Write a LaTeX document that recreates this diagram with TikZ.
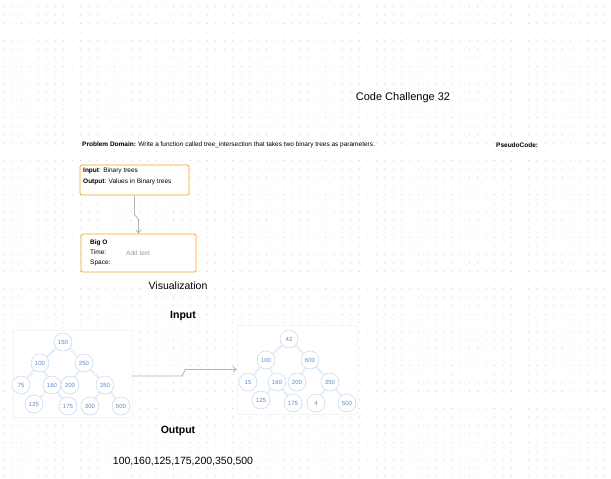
\documentclass[tikz,border=0pt]{standalone}
\usepackage{fontspec}
\setmainfont{Liberation Sans}
\usetikzlibrary{arrows.meta}
\definecolor{boxorange}{HTML}{F5A524}
\definecolor{treeline}{HTML}{C4D7EE}
\definecolor{treetext}{HTML}{5B8CC8}
\definecolor{dotgray}{HTML}{CDCDCD}
\definecolor{conngray}{HTML}{B3B3B3}
\begin{document}
\begin{tikzpicture}[x=1pt, y=-1pt,
  tiny/.style={font=\fontsize{6.5}{7.5}\selectfont, inner sep=0pt, align=left},
  big/.style={font=\fontsize{10.5}{12}\selectfont, inner sep=0pt},
  card/.style={draw=boxorange, line width=0.9pt, rounded corners=1.5pt, fill=white,
               minimum width=#1, inner sep=0pt},
  frame/.style={draw=black!4, fill=white, inner sep=0pt},
  tnode/.style={circle, draw=treeline, fill=white, line width=0.5pt, minimum size=18pt,
                inner sep=0pt, text=treetext, font=\fontsize{6}{7}\selectfont},
  tedge/.style={draw=treeline, line width=0.45pt, double=white, double distance=0.8pt},
  conn/.style={draw=conngray, line width=0.8pt, -{Straight Barb[length=3pt,width=5pt]}}
]
  \useasboundingbox[fill=white] (0,0) rectangle (611,479);

  % --- dotted canvas ---
  \foreach \i in {0,...,71}
    \foreach \j in {0,...,55}
      \fill[dotgray] (4.5+8.45*\i, 6.5+8.55*\j) circle (0.55);

  % --- title and problem line ---
  \node[font=\fontsize{11}{13}\selectfont, inner sep=0pt] (title) at (403,98) {Code Challenge 32};
  \node[tiny, anchor=west] (domain) at (82,145)
       {\textbf{Problem Domain:} Write a function called tree\_intersection that takes two binary trees as parameters.};
  \node[tiny, anchor=west] (pseudo) at (496,145) {\textbf{PseudoCode:}};

  % --- input / output card ---
  \node[card=109pt, minimum height=30pt] (inbox) at (134.5,180) {};
  \node[tiny, anchor=north west] (intxt) at (83,167.5)
       {\textbf{Input}: Binary trees\\[3.5pt]\textbf{Output}: Values in Binary trees};

  % --- big O card ---
  \node[card=115pt, minimum height=38pt] (bigo) at (138.5,253) {};
  \node[tiny, anchor=north west] (bigotxt) at (90,240)
       {\textbf{Big O}\\[2.5pt]Time:\\[2.5pt]Space:};
  \node[tiny, text=black!40, anchor=west] (addtxt) at (126,253) {Add text};

  \draw[conn] (inbox.south) -- ++(0,19) -- ++(4,5) -- (bigo.north);

  % --- headings ---
  \node[big] (visual) at (178,286) {Visualization};
  \node[big, font=\fontsize{10.5}{12}\selectfont\bfseries] (inhead) at (183,316) {Input};
  \node[big, font=\fontsize{10.5}{12}\selectfont\bfseries] (outhead) at (178,431) {Output};
  \node[big] (result) at (183,462) {100,160,125,175,200,350,500};

  % --- first tree ---
  \node[frame, minimum width=119pt, minimum height=87pt] (lframe) at (72.5,373.5) {};
  \node[tnode] (a150) at (63,342) {150};
  \node[tnode] (a100) at (40,363) {100};
  \node[tnode] (a250) at (84,363) {250};
  \node[tnode] (a75)  at (21,385) {75};
  \node[tnode] (a160) at (52,385) {160};
  \node[tnode] (a200) at (70,385) {200};
  \node[tnode] (a350) at (105,385) {350};
  \node[tnode] (a125) at (34,404) {125};
  \node[tnode] (a175) at (68,406) {175};
  \node[tnode] (a300) at (90,406) {300};
  \node[tnode] (a500) at (121,406) {500};
  \draw[tedge] (a150) -- (a100);
  \draw[tedge] (a150) -- (a250);
  \draw[tedge] (a100) -- (a75);
  \draw[tedge] (a100) -- (a160);
  \draw[tedge] (a160) -- (a125);
  \draw[tedge] (a160) -- (a175);
  \draw[tedge] (a250) -- (a200);
  \draw[tedge] (a250) -- (a350);
  \draw[tedge] (a350) -- (a300);
  \draw[tedge] (a350) -- (a500);

  % --- second tree ---
  \node[frame, minimum width=120pt, minimum height=89pt] (rframe) at (297,369.5) {};
  \node[tnode] (b42)  at (289,339) {42};
  \node[tnode] (b100) at (266,360) {100};
  \node[tnode] (b600) at (310,360) {600};
  \node[tnode] (b15)  at (248,382) {15};
  \node[tnode] (b160) at (277,382) {160};
  \node[tnode] (b200) at (297,382) {200};
  \node[tnode] (b350) at (330,382) {350};
  \node[tnode] (b125) at (261,400) {125};
  \node[tnode] (b175) at (293,403) {175};
  \node[tnode] (b4)   at (316,403) {4};
  \node[tnode] (b500) at (347,403) {500};
  \draw[tedge] (b42) -- (b100);
  \draw[tedge] (b42) -- (b600);
  \draw[tedge] (b100) -- (b15);
  \draw[tedge] (b100) -- (b160);
  \draw[tedge] (b160) -- (b125);
  \draw[tedge] (b160) -- (b175);
  \draw[tedge] (b600) -- (b200);
  \draw[tedge] (b600) -- (b350);
  \draw[tedge] (b350) -- (b4);
  \draw[tedge] (b350) -- (b500);

  \draw[conn] ([yshift=-2.5pt]lframe.east) -- ++(50,0) -- ++(3,-6.5) -- (rframe.west);
\end{tikzpicture}
\end{document}
